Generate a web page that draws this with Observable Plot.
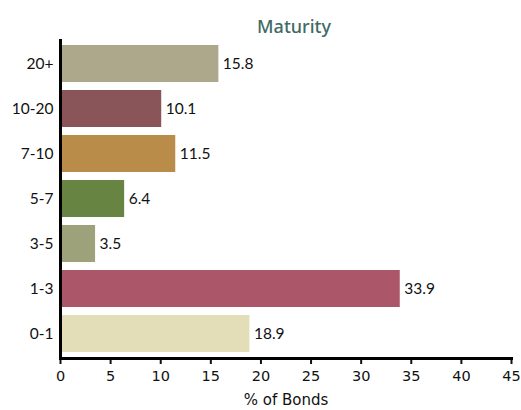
<!DOCTYPE html>
<html>
<head>
<meta charset="utf-8">
<script src="https://cdn.jsdelivr.net/npm/d3@7"></script>
<script src="https://cdn.jsdelivr.net/npm/@observablehq/plot@0.6"></script>
<style>
  html, body { margin: 0; padding: 0; background: #fff; }
</style>
</head>
<body>
<div id="chart"></div>
<script>
const categories = ["20+", "10-20", "7-10", "5-7", "3-5", "1-3", "0-1"];
const values = [15.8, 10.1, 11.5, 6.4, 3.5, 33.9, 18.9];
const colors = ["#ada88c", "#8a5558", "#b98c4a", "#678442", "#9ea27a", "#ab5669", "#e3ddb8"];
const xTicks = [0, 5, 10, 15, 20, 25, 30, 35, 40, 45];
const title = "Maturity";
const xLabel = "% of Bonds";

const data = categories.map((c, i) => ({category: c, value: values[i], color: colors[i]}));

const chart = Plot.plot({
  width: 521,
  height: 410,
  marginLeft: 60,
  marginRight: 10,
  marginTop: 39,
  marginBottom: 52,
  style: {fontFamily: "Lato, sans-serif", fontSize: "15.5px", color: "#111"},
  x: {domain: [0, 45], ticks: xTicks},
  y: {domain: categories, paddingInner: 0.18, paddingOuter: 0.1},
  marks: [
    Plot.barX(data, {x: "value", y: "category", fill: "color"}),
    Plot.text(data, {x: "value", y: "category", text: d => d.value.toFixed(1), textAnchor: "start", dx: 4, fill: "#111", fontSize: 15.5}),
    Plot.axisY({tickSize: 0, tickPadding: 7, label: null, fontSize: 15.5}),
    Plot.axisX({ticks: xTicks, tickSize: 6, strokeWidth: 2, tickPadding: 6, label: null, fontFamily: "'DejaVu Sans', sans-serif", fontSize: 14.5}),
    Plot.ruleX([0], {strokeWidth: 3, stroke: "#000"}),
    Plot.frame({anchor: "bottom", strokeWidth: 3, stroke: "#000"}),
    Plot.text([xLabel], {frameAnchor: "bottom", dy: 46, fontFamily: "'DejaVu Sans', sans-serif", fontSize: 15, fill: "#111"}),
    Plot.text([title], {frameAnchor: "top", dx: 8, dy: -19, fontFamily: "'Noto Sans', sans-serif", fontSize: 18, fill: "#3f6b64", fontWeight: "500"})
  ]
});
document.getElementById("chart").append(chart);
</script>
</body>
</html>
